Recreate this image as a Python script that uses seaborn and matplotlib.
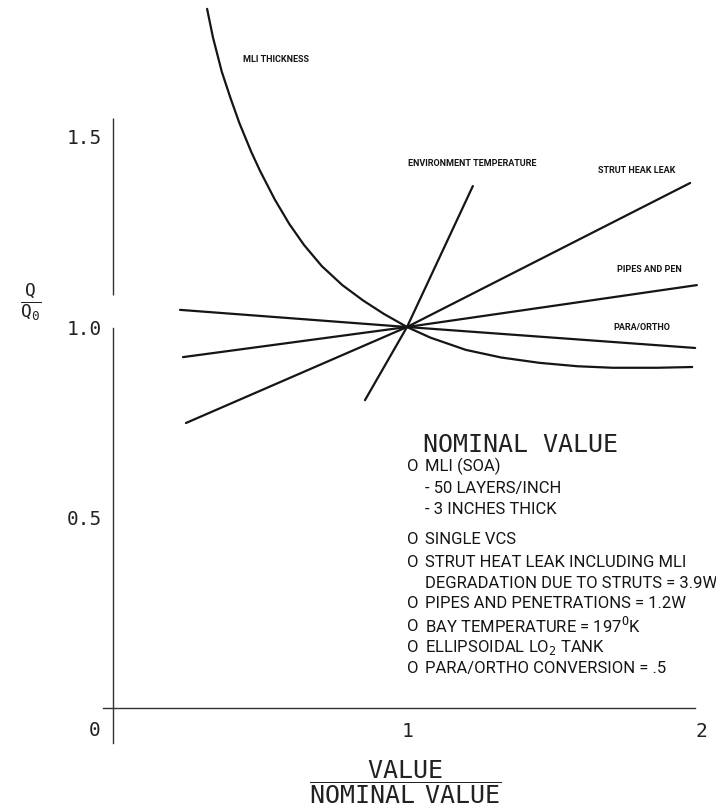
import numpy as np
import pandas as pd
import matplotlib
matplotlib.use("Agg")
import matplotlib.pyplot as plt
import seaborn as sns

# curves (x = value / nominal value, y = Q / Q0)
mli_x = [0.32, 0.34, 0.37, 0.40, 0.43, 0.47, 0.50, 0.55, 0.60, 0.65, 0.71, 0.78,
         0.85, 0.92, 1.00, 1.08, 1.20, 1.32, 1.45, 1.58, 1.70, 1.85, 1.97]
mli_y = [1.835, 1.76, 1.67, 1.60, 1.535, 1.46, 1.41, 1.335, 1.27, 1.215, 1.16, 1.11,
         1.07, 1.035, 1.00, 0.972, 0.94, 0.92, 0.906, 0.897, 0.893, 0.893, 0.895]
env_x = [0.857, 1.0, 1.224]
env_y = [0.808, 1.0, 1.370]
strut_x = [0.248, 1.0, 1.963]
strut_y = [0.748, 1.0, 1.378]
pipes_x = [0.238, 1.0, 1.986]
pipes_y = [0.921, 1.0, 1.110]
para_x = [0.228, 1.0, 1.98]
para_y = [1.045, 1.0, 0.945]

curve_names = ["MLI THICKNESS", "ENVIRONMENT TEMPERATURE", "STRUT HEAK LEAK",
               "PIPES AND PEN", "PARA/ORTHO"]

y_ticks = [0.5, 1.0, 1.5]
y_ticklabels = ["0.5", "1.0", "1.5"]
x_ticks = [1, 2]
x_ticklabels = ["1", "2"]

nominal_bullets = ["O", "", "", "O", "O", "", "O", "O", "O", "O"]
nominal_lines = [
    "MLI (SOA)",
    "- 50 LAYERS/INCH",
    "- 3 INCHES THICK",
    "SINGLE VCS",
    "STRUT HEAT LEAK INCLUDING MLI",
    "DEGRADATION DUE TO STRUTS = 3.9W",
    "PIPES AND PENETRATIONS = 1.2W",
    r"BAY TEMPERATURE = 197$^{\mathrm{O}}$K",
    r"ELLIPSOIDAL LO$_{2}$ TANK",
    "PARA/ORTHO CONVERSION = .5",
]

sns.set_style("white")
plt.rcParams["font.family"] = ["DejaVu Sans Mono", "DejaVu Sans"]
plt.rcParams["mathtext.fontset"] = "custom"
plt.rcParams["mathtext.rm"] = "DejaVu Sans Mono"
plt.rcParams["mathtext.it"] = "DejaVu Sans Mono"
narrow = ["Roboto", "DejaVu Sans"]
ink = "#151515"

frames = []
for name, xs, ys in zip(curve_names,
                        [mli_x, env_x, strut_x, pipes_x, para_x],
                        [mli_y, env_y, strut_y, pipes_y, para_y]):
    frames.append(pd.DataFrame({"curve": name, "x": xs, "y": ys}))
df = pd.concat(frames, ignore_index=True)

fig = plt.figure(figsize=(7.16, 8.1), dpi=100)
ax = fig.add_axes([0, 0, 1, 1])

sns.lineplot(data=df, x="x", y="y", units="curve", estimator=None,
             color=ink, linewidth=1.6, ax=ax)

# axis frame: origin near the lower left, width matches the original page
ax.set_xlim(-0.3844, 2.051)
ax.set_ylim(-0.2677, 1.8583)
ax.spines["top"].set_visible(False)
ax.spines["right"].set_visible(False)
ax.spines["left"].set_position(("data", 0))
ax.spines["bottom"].set_position(("data", 0))
ax.spines["left"].set_bounds(-0.092, 0.997)
ax.spines["bottom"].set_bounds(-0.034, 1.98)
for s in ["left", "bottom"]:
    ax.spines[s].set_color("#333333")
    ax.spines[s].set_linewidth(1.0)
ax.vlines(0, 1.084, 1.549, color="#333333", linewidth=1.0)

ax.set_yticks(y_ticks, labels=y_ticklabels)
ax.set_xticks(x_ticks, labels=x_ticklabels)
ax.tick_params(axis="y", length=0, pad=8, labelsize=14, colors="#222222")
ax.tick_params(axis="x", length=0, pad=10, labelsize=14, colors="#222222")
ax.set_xlabel("")
ax.set_ylabel("")
ax.text(-0.061, -0.058, "0", ha="center", va="center", fontsize=14, color="#222222")

ax.text(-0.282, 1.066, r"$\dfrac{\mathrm{Q}}{\mathrm{Q_0}}$", ha="center", va="center",
        fontsize=13, color="#222222")
ax.text(0.993, -0.194, r"$\dfrac{\mathrm{VALUE}}{\mathrm{NOMINAL\ \ VALUE}}$",
        ha="center", va="center", fontsize=18, color="#222222")

# curve labels
label_pos = [(0.442, 1.701, "left"), (1.221, 1.428, "center"), (1.782, 1.412, "center"),
             (1.823, 1.150, "center"), (1.799, 1.0, "center")]
for name, (lx, ly, ha) in zip(curve_names, label_pos):
    ax.text(lx, ly, name, ha=ha, va="center", fontsize=6.5, fontweight="bold",
            family=narrow, color=ink)

# nominal value block
ax.text(1.054, 0.690, "NOMINAL VALUE", ha="left", va="center", fontsize=18, color="#222222")
line_y = [0.635, 0.577, 0.522, 0.441, 0.383, 0.328, 0.273, 0.215, 0.160, 0.105]
for b, t, ly in zip(nominal_bullets, nominal_lines, line_y):
    if b:
        ax.text(1.0, ly, b, ha="left", va="center", fontsize=12, family=narrow, color=ink)
    ax.text(1.061, ly, t, ha="left", va="center", fontsize=12, family=narrow, color=ink)

fig.savefig("out.png", dpi=100)
